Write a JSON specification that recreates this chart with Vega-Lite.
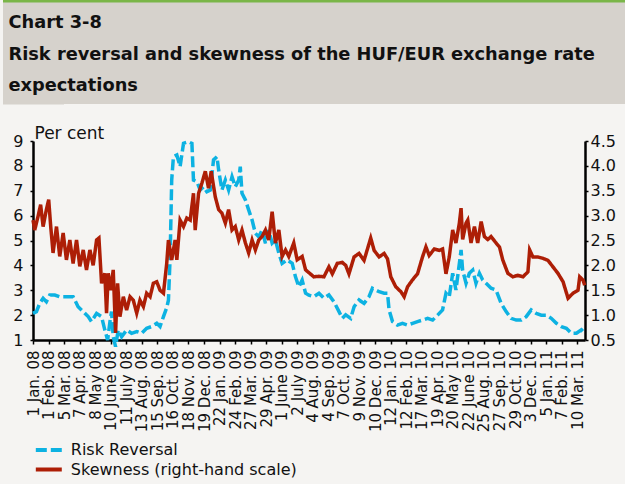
{
 "$schema": "https://vega.github.io/schema/vega-lite/v6.json",
 "background": "#f5f4f2",
 "padding": {"left": 2, "top": 0, "right": 0, "bottom": 6},
 "config": {
  "font": "DejaVu Sans",
  "view": {"stroke": null},
  "axisX": {"labelOverlap": false, "labelFlush": false},
  "legend": {"orient": "none", "legendX": 4.8, "legendY": 439, "padding": 0, "direction": "vertical", "title": null, "symbolType": "M-1.5,0H1.5", "symbolSize": 300, "symbolStrokeWidth": 4, "labelFontSize": 16, "labelColor": "#111111", "labelLimit": 400, "rowPadding": 0.5, "labelOffset": 11}
 },
 "datasets": {
  "head": [
   {"row": 1, "txt": "Chart 3-8"},
   {"row": 2, "txt": "Risk reversal and skewness of the HUF/EUR exchange rate"},
   {"row": 3, "txt": "expectations"}
  ],
  "rr": [
   {"t":0,"v":2.07},{"t":0.22,"v":2.14},{"t":0.43,"v":2.47},{"t":0.65,"v":2.68},{"t":0.86,"v":2.54},{"t":1.08,"v":2.81},{"t":1.4,"v":2.81},{"t":1.72,"v":2.74},{"t":2.15,"v":2.74},{"t":2.58,"v":2.74},{"t":2.9,"v":2.34},{"t":3.23,"v":2.14},{"t":3.55,"v":1.94},{"t":3.76,"v":1.74},{"t":4.09,"v":2.07},{"t":4.41,"v":1.94},{"t":4.62,"v":1.4},{"t":4.8,"v":1.0},{"t":4.95,"v":1.74},{"t":5.05,"v":2.14},{"t":5.16,"v":1.13},{"t":5.31,"v":0.73},{"t":5.48,"v":1.4},{"t":5.7,"v":1.13},{"t":6.02,"v":1.4},{"t":6.34,"v":1.27},{"t":6.67,"v":1.34},{"t":6.99,"v":1.27},{"t":7.31,"v":1.47},{"t":7.63,"v":1.54},{"t":7.96,"v":1.67},{"t":8.17,"v":1.54},{"t":8.39,"v":1.94},
   {"t":8.6,"v":2.3},{"t":8.71,"v":2.6},{"t":8.82,"v":4.35},{"t":8.92,"v":7.43},{"t":9.03,"v":8.37},{"t":9.25,"v":8.44},{"t":9.46,"v":7.97},{"t":9.68,"v":8.91},{"t":9.99,"v":8.97},{"t":10.22,"v":8.9},{"t":10.32,"v":7.43},{"t":10.54,"v":7.36},{"t":10.75,"v":7.03},{"t":10.97,"v":7.16},{"t":11.18,"v":6.96},{"t":11.4,"v":7.03},{"t":11.61,"v":8.24},{"t":11.83,"v":8.37},{"t":11.94,"v":7.83},{"t":12.15,"v":7.03},{"t":12.37,"v":7.43},{"t":12.58,"v":7.03},{"t":12.8,"v":7.56},{"t":13.01,"v":7.16},{"t":13.23,"v":7.43},{"t":13.33,"v":7.97},{"t":13.44,"v":6.9},{"t":13.66,"v":6.63},{"t":13.87,"v":6.23},{"t":14.09,"v":5.82},{"t":14.3,"v":5.29},{"t":14.52,"v":5.15},{"t":14.73,"v":5.42},{"t":14.95,"v":4.89},{"t":15.16,"v":5.42},{"t":15.38,"v":4.89},{"t":15.59,"v":5.02},{"t":15.81,"v":4.49},{"t":16.02,"v":4.08},{"t":16.34,"v":4.22},{"t":16.67,"v":4.08},{"t":16.88,"v":3.54},{"t":17.1,"v":3.14},{"t":17.31,"v":3.41},{"t":17.53,"v":2.88},{"t":17.74,"v":2.8},
   {"t":18.06,"v":2.74},{"t":18.39,"v":2.88},{"t":18.71,"v":2.68},{"t":19.03,"v":2.81},{"t":19.35,"v":2.54},{"t":19.68,"v":2.14},{"t":19.89,"v":1.87},{"t":20.11,"v":2.01},{"t":20.43,"v":1.87},{"t":20.65,"v":2.34},{"t":20.97,"v":2.61},{"t":21.29,"v":2.47},{"t":21.61,"v":2.74},{"t":21.83,"v":3.08},{"t":22.26,"v":2.94},{"t":22.58,"v":2.88},{"t":22.8,"v":2.88},{"t":22.9,"v":2.21},{"t":23.12,"v":1.74},{"t":23.44,"v":1.6},{"t":23.76,"v":1.67},{"t":24.09,"v":1.6},{"t":24.41,"v":1.67},{"t":24.73,"v":1.74},{"t":25.05,"v":1.8},{"t":25.38,"v":1.87},{"t":25.7,"v":1.8},{"t":26.02,"v":2.0},{"t":26.34,"v":2.21},{"t":26.56,"v":2.88},{"t":26.77,"v":2.74},
   {"t":26.99,"v":3.68},{"t":27.2,"v":3.01},{"t":27.42,"v":4.08},{"t":27.53,"v":4.62},{"t":27.63,"v":3.81},{"t":27.85,"v":3.28},{"t":28.06,"v":3.68},{"t":28.28,"v":3.81},{"t":28.49,"v":3.28},{"t":28.71,"v":3.68},{"t":28.92,"v":3.41},{"t":29.14,"v":3.28},{"t":29.46,"v":3.08},{"t":29.78,"v":3.01},{"t":30.11,"v":2.47},{"t":30.43,"v":2.14},{"t":30.75,"v":1.87},{"t":31.08,"v":1.8},{"t":31.4,"v":1.8},{"t":31.72,"v":1.94},{"t":32.04,"v":2.21},{"t":32.37,"v":2.07},{"t":32.69,"v":2.0},{"t":33.01,"v":2.0},{"t":33.33,"v":1.87},{"t":33.66,"v":1.67},{"t":33.98,"v":1.54},{"t":34.3,"v":1.47},{"t":34.62,"v":1.27},{"t":34.95,"v":1.27},{"t":35.27,"v":1.41},{"t":35.48,"v":1.27}
  ],
  "sk": [
   {"t":0,"v":2.91},{"t":0.11,"v":2.71},{"t":0.32,"v":2.98},{"t":0.49,"v":3.22},{"t":0.65,"v":2.78},{"t":0.86,"v":3.12},{"t":1.01,"v":3.32},{"t":1.14,"v":2.78},{"t":1.29,"v":2.25},{"t":1.51,"v":2.78},{"t":1.72,"v":2.18},{"t":1.94,"v":2.65},{"t":2.15,"v":2.11},{"t":2.37,"v":2.51},{"t":2.58,"v":2.04},{"t":2.8,"v":2.51},{"t":3.01,"v":1.98},{"t":3.23,"v":2.31},{"t":3.44,"v":1.91},{"t":3.66,"v":2.31},{"t":3.87,"v":2.0},{"t":4.09,"v":2.51},{"t":4.24,"v":2.55},{"t":4.41,"v":1.64},{"t":4.62,"v":1.84},{"t":4.73,"v":1.04},{"t":4.84,"v":1.84},{"t":4.99,"v":1.5},{"t":5.16,"v":1.91},{"t":5.31,"v":0.64},{"t":5.44,"v":1.64},{"t":5.59,"v":0.97},{"t":5.81,"v":1.37},{"t":6.02,"v":1.1},{"t":6.24,"v":1.37},{"t":6.45,"v":1.3},{"t":6.67,"v":1.04},{"t":6.88,"v":1.3},{"t":7.1,"v":1.17},{"t":7.31,"v":1.44},{"t":7.53,"v":1.37},{"t":7.74,"v":1.64},{"t":7.96,"v":1.67},{"t":8.17,"v":1.5},{"t":8.39,"v":1.44},{"t":8.6,"v":2.04},
   {"t":8.71,"v":2.51},{"t":8.92,"v":2.11},{"t":9.14,"v":2.51},{"t":9.25,"v":2.11},{"t":9.46,"v":2.91},{"t":9.68,"v":2.78},{"t":9.89,"v":2.95},{"t":10.11,"v":2.91},{"t":10.32,"v":3.45},{"t":10.43,"v":2.71},{"t":10.65,"v":3.45},{"t":10.86,"v":3.65},{"t":11.08,"v":3.89},{"t":11.29,"v":3.55},{"t":11.46,"v":3.89},{"t":11.72,"v":3.38},{"t":11.94,"v":3.12},{"t":12.15,"v":3.05},{"t":12.37,"v":2.85},{"t":12.58,"v":3.12},{"t":12.8,"v":2.71},{"t":13.01,"v":2.78},{"t":13.23,"v":2.51},{"t":13.44,"v":2.71},{"t":13.66,"v":2.45},{"t":13.87,"v":2.25},{"t":14.09,"v":2.51},{"t":14.3,"v":2.31},{"t":14.52,"v":2.51},{"t":14.73,"v":2.58},{"t":14.95,"v":2.71},{"t":15.16,"v":2.51},{"t":15.38,"v":3.08},{"t":15.59,"v":2.45},{"t":15.81,"v":2.71},{"t":16.02,"v":2.18},{"t":16.24,"v":2.31},{"t":16.45,"v":2.18},{"t":16.77,"v":2.45},{"t":16.99,"v":2.11},{"t":17.31,"v":2.18},{"t":17.53,"v":1.91},
   {"t":18.06,"v":1.77},{"t":18.39,"v":1.78},{"t":18.71,"v":1.77},{"t":19.03,"v":1.97},{"t":19.25,"v":1.83},{"t":19.57,"v":2.04},{"t":19.89,"v":2.06},{"t":20.11,"v":2.0},{"t":20.32,"v":1.83},{"t":20.65,"v":2.17},{"t":20.97,"v":2.24},{"t":21.29,"v":2.1},{"t":21.72,"v":2.55},{"t":21.94,"v":2.3},{"t":22.26,"v":2.17},{"t":22.58,"v":2.24},{"t":22.8,"v":2.13},{"t":23.01,"v":1.77},{"t":23.33,"v":1.57},{"t":23.66,"v":1.47},{"t":23.87,"v":1.37},{"t":24.09,"v":1.57},{"t":24.41,"v":1.71},{"t":24.73,"v":1.83},{"t":25.05,"v":2.17},{"t":25.27,"v":2.37},{"t":25.48,"v":2.2},{"t":25.81,"v":2.33},{"t":26.13,"v":2.3},{"t":26.34,"v":2.33},{"t":26.56,"v":1.83},
   {"t":26.77,"v":2.17},{"t":26.99,"v":2.71},{"t":27.2,"v":2.45},{"t":27.42,"v":2.85},{"t":27.53,"v":3.15},{"t":27.63,"v":2.52},{"t":27.85,"v":2.85},{"t":27.96,"v":2.91},{"t":28.17,"v":2.45},{"t":28.39,"v":2.78},{"t":28.6,"v":2.45},{"t":28.82,"v":2.88},{"t":29.03,"v":2.58},{"t":29.25,"v":2.52},{"t":29.46,"v":2.58},{"t":29.78,"v":2.45},{"t":30.0,"v":2.37},{"t":30.21,"v":2.11},{"t":30.54,"v":1.84},{"t":30.86,"v":1.77},{"t":31.18,"v":1.8},{"t":31.51,"v":1.77},{"t":31.83,"v":1.87},{"t":31.94,"v":2.31},{"t":32.15,"v":2.17},{"t":32.47,"v":2.17},{"t":32.8,"v":2.14},{"t":33.12,"v":2.1},{"t":33.44,"v":1.97},{"t":33.76,"v":1.84},{"t":34.09,"v":1.67},{"t":34.41,"v":1.34},{"t":34.73,"v":1.44},{"t":35.05,"v":1.5},{"t":35.16,"v":1.77},{"t":35.38,"v":1.7},{"t":35.48,"v":1.6}
  ]
 },
 "columns": 1,
 "spacing": 20,
 "concat": [
  {
   "width": 592.5,
   "height": 104,
   "view": {"fill": "#d6d2cc", "stroke": null},
   "data": {"name": "head"},
   "mark": {"type": "text", "align": "left", "baseline": "middle", "fontSize": 17.8, "fontWeight": "bold", "color": "#111111", "dx": 6},
   "encoding": {
    "y": {"field": "row", "type": "ordinal", "scale": {"type": "point", "padding": 0.651, "align": 0.561},
     "axis": {"labels": false, "ticks": false, "title": null, "grid": false, "domainColor": "#d6d2cc", "domainWidth": 61, "domainCap": "butt", "zindex": 0}},
    "x": {"datum": 0, "type": "quantitative", "scale": {"domain": [0, 1], "range": [-30.5, 592.5]},
     "axis": {"orient": "top", "domainColor": "#7ab648", "domainWidth": 4, "domainCap": "butt", "ticks": false, "labels": false, "title": null, "grid": false, "zindex": 1}},
    "text": {"field": "txt"}
   }
  },
  {
   "width": 552,
   "height": 199,
   "encoding": {
    "x": {"field": "t", "type": "quantitative", "scale": {"domain": [0, 35.5], "nice": false, "zero": false},
     "axis": {"values": [0,1,2,3,4,5,6,7,8,9,10,11,12,13,14,15,16,17,18,19,20,21,22,23,24,25,26,27,28,29,30,31,32,33,34,35],
      "labelExpr": "['1 Jan. 08','1 Feb. 08','5 Mar. 08','7 Apr. 08','8 May 08','10 June 08','11 July 08','13 Aug. 08','15 Sep. 08','16 Oct. 08','18 Nov. 08','19 Dec. 08','22 Jan. 09','24 Feb. 09','27 Mar. 09','29 Apr. 09','1 June 09','2 July 09','4 Aug. 09','4 Sep. 09','7 Oct. 09','9 Nov. 09','10 Dec. 09','12 Jan. 10','12 Feb. 10','17 Mar. 10','19 Apr. 10','20 May 10','22 June 10','25 Aug. 10','27 Sep. 10','29 Oct. 10','3 Dec. 10','5 Jan. 11','7 Feb. 11','10 Mar. 11'][datum.value]",
      "labelAngle": -90, "labelFontSize": 15, "labelColor": "#111111", "labelPadding": 6, "labelFlush": false, "labelOverlap": false,
      "tickSize": 4, "tickWidth": 1.5, "tickColor": "#000000", "domainWidth": 2.5, "domainColor": "#000000", "grid": false, "title": null}}
   },
   "layer": [
    {
     "data": {"name": "rr"},
     "mark": {"type": "line", "strokeWidth": 3.5},
     "encoding": {
      "y": {"field": "v", "type": "quantitative", "scale": {"domain": [1, 9], "nice": false, "zero": false},
       "axis": {"values": [1,2,3,4,5,6,7,8,9], "format": "d", "labelFontSize": 16, "labelColor": "#111111", "labelPadding": 7, "tickSize": 3, "tickWidth": 1.5, "tickColor": "#000000", "domainWidth": 2.5, "domainColor": "#000000", "grid": false, "minExtent": 30.5,
        "title": "Per cent", "titleAngle": 0, "titleAlign": "left", "titleBaseline": "alphabetic", "titleX": 1, "titleY": -3, "titleFontSize": 17, "titleFontWeight": "normal", "titleColor": "#111111"}},
      "color": {"datum": "Risk Reversal", "type": "nominal", "scale": {"domain": ["Risk Reversal", "Skewness (right-hand scale)"], "range": ["#0db2e2", "#ad1e06"]}},
      "strokeDash": {"datum": "Risk Reversal", "type": "nominal", "scale": {"domain": ["Risk Reversal", "Skewness (right-hand scale)"], "range": [[11, 4], [1, 0]]}}
     }
    },
    {
     "data": {"name": "sk"},
     "mark": {"type": "line", "strokeWidth": 3.5},
     "encoding": {
      "y": {"field": "v", "type": "quantitative", "scale": {"domain": [0.5, 4.5], "nice": false, "zero": false},
       "axis": {"orient": "right", "values": [0.5,1,1.5,2,2.5,3,3.5,4,4.5], "format": ".1f", "labelFontSize": 16, "labelColor": "#111111", "labelPadding": 2, "tickSize": 3, "tickWidth": 1.5, "tickColor": "#000000", "domainWidth": 2.5, "domainColor": "#000000", "grid": false, "title": null}},
      "color": {"datum": "Skewness (right-hand scale)", "type": "nominal"},
      "strokeDash": {"datum": "Skewness (right-hand scale)", "type": "nominal"}
     }
    }
   ],
   "resolve": {"scale": {"y": "independent"}}
  }
 ]
}
